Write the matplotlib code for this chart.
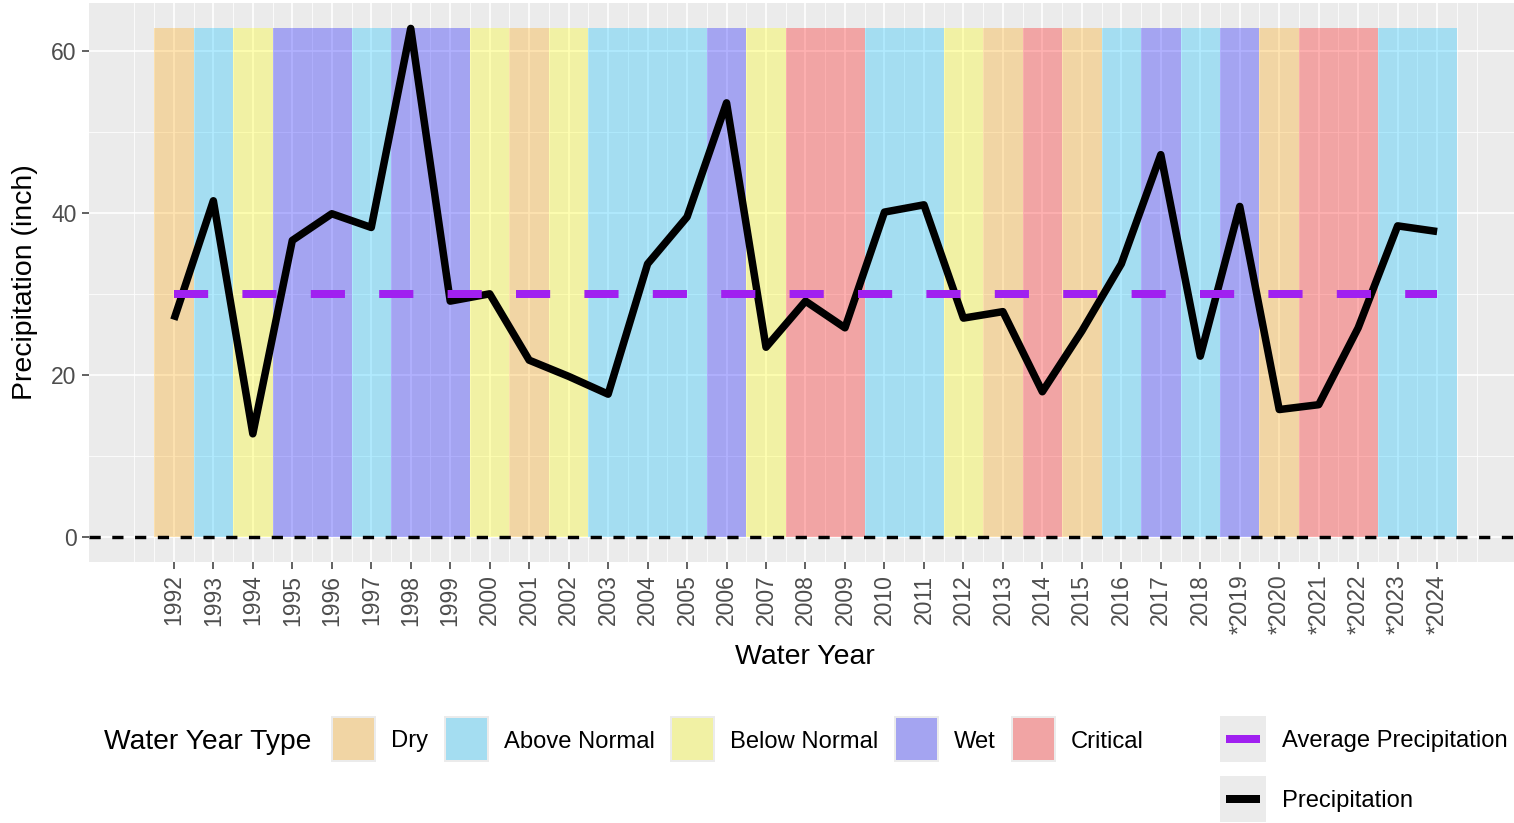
import matplotlib.pyplot as plt
from matplotlib.patches import Rectangle

years = list(range(1992, 2025))
precip = [26.8, 41.5, 12.7, 36.6, 39.9, 38.2, 62.8, 29.1, 30.0, 21.8,
          19.8, 17.6, 33.7, 39.5, 53.6, 23.4, 29.1, 25.8, 40.1, 41.0,
          27.0, 27.8, 17.9, 25.4, 33.7, 47.2, 22.3, 40.8, 15.7, 16.3,
          25.8, 38.4, 37.7]
year_type = ["Dry", "Above Normal", "Below Normal", "Wet", "Wet", "Above Normal",
             "Wet", "Wet", "Below Normal", "Dry", "Below Normal", "Above Normal",
             "Above Normal", "Above Normal", "Wet", "Below Normal", "Critical",
             "Critical", "Above Normal", "Above Normal", "Below Normal", "Dry",
             "Critical", "Dry", "Above Normal", "Wet", "Above Normal", "Wet",
             "Dry", "Critical", "Critical", "Above Normal", "Above Normal"]
tick_labels = ["1992", "1993", "1994", "1995", "1996", "1997", "1998", "1999",
               "2000", "2001", "2002", "2003", "2004", "2005", "2006", "2007",
               "2008", "2009", "2010", "2011", "2012", "2013", "2014", "2015",
               "2016", "2017", "2018", "*2019", "*2020", "*2021", "*2022",
               "*2023", "*2024"]
avg_precip = 30.0
type_order = ["Dry", "Above Normal", "Below Normal", "Wet", "Critical"]
type_colors = {"Dry": "orange", "Above Normal": "deepskyblue",
               "Below Normal": "yellow", "Wet": "blue", "Critical": "red"}

W, H, DPI = 1514, 823, 100
plt.rcParams["font.family"] = ["Liberation Sans", "DejaVu Sans"]
px = 72 / DPI  # points per pixel

fig = plt.figure(figsize=(W / DPI, H / DPI), dpi=DPI)
# panel in pixels: left 89, right 1522 (ggplot output was cropped), top 3, bottom 562
ax = fig.add_axes([89 / W, (H - 562) / H, (1522 - 89) / W, (562 - 3) / H])
ax.set_facecolor("#EBEBEB")
for s in ax.spines.values():
    s.set_visible(False)

bar_top = max(precip)
cols = [type_colors[t] for t in year_type]
ax.bar(years, bar_top, width=1, color=cols, alpha=0.3, linewidth=0, zorder=2)

ax.axhline(0, color="black", lw=3.4 * px, linestyle=(0, (3.3, 3.4)), zorder=3)
ax.plot(years, precip, color="black", lw=7.5 * px, solid_joinstyle="round",
        solid_capstyle="butt", zorder=4)
ax.hlines(avg_precip, years[0], years[-1], color="#A020F0", lw=8 * px,
          linestyle=(0, (4.27, 4.28)), capstyle="butt", zorder=5)

span = years[-1] - years[0] + 1
ax.set_xlim(years[0] - 0.5 - 0.05 * span, years[-1] + 0.5 + 0.05 * span)
ax.set_ylim(-0.05 * bar_top, 1.05 * bar_top)

ax.set_xticks(years)
ax.set_xticklabels(tick_labels, rotation=90)
minor_x = [years[0] - 1] + [y - 0.5 for y in years] + [years[-1] + 0.5, years[-1] + 1]
ax.set_xticks(minor_x, minor=True)
ax.set_yticks([0, 20, 40, 60])
ax.set_yticks([10, 30, 50], minor=True)
ax.grid(which="major", color="white", lw=1.6 * px)
ax.grid(which="minor", color="white", lw=0.8 * px)
ax.set_axisbelow(True)
ax.tick_params(which="major", length=7 * px, width=1.5 * px,
               color="#333333", labelcolor="#4D4D4D", labelsize=16.5, pad=4)
ax.tick_params(which="minor", length=0)

fig.text(805 / W, 1 - 657 / H, "Water Year", fontsize=20.5, ha="center", va="center")
fig.text(25 / W, 1 - 282 / H, "Precipitation (inch)", fontsize=20.5, rotation=90,
         ha="center", va="center")

# legend drawn in pixel coordinates
lax = fig.add_axes([0, 0, 1, 1])
lax.set_xlim(0, W)
lax.set_ylim(H, 0)
lax.axis("off")
lax.patch.set_visible(False)

renderer = fig.canvas.get_renderer()
lax.text(104, 742, "Water Year Type", fontsize=20.3, ha="left", va="center")
key_w, key_h, key_top = 45, 46, 716
x = 331
for t in type_order:
    lax.add_patch(Rectangle((x, key_top), key_w, key_h, facecolor="#EBEBEB", edgecolor="none"))
    lax.add_patch(Rectangle((x + 2, key_top + 2), key_w - 4, key_h - 4,
                            facecolor=type_colors[t], alpha=0.3, edgecolor="none"))
    txt = lax.text(x + key_w + 15, key_top + key_h / 2 + 2.5, t, fontsize=17.1,
                   ha="left", va="center")
    bb = txt.get_window_extent(renderer)
    x = bb.x1 + 15.5

line_keys = [("Average Precipitation", "#A020F0", 716), ("Precipitation", "black", 776)]
for label, c, top in line_keys:
    lax.add_patch(Rectangle((1220, top), 46, 46, facecolor="#EBEBEB", edgecolor="none"))
    lax.plot([1226, 1260], [top + 23, top + 23], color=c, lw=8 * px, solid_capstyle="butt")
    lax.text(1282, top + 25.5, label, fontsize=17.1, ha="left", va="center")

fig.savefig("out.png", dpi=DPI)
